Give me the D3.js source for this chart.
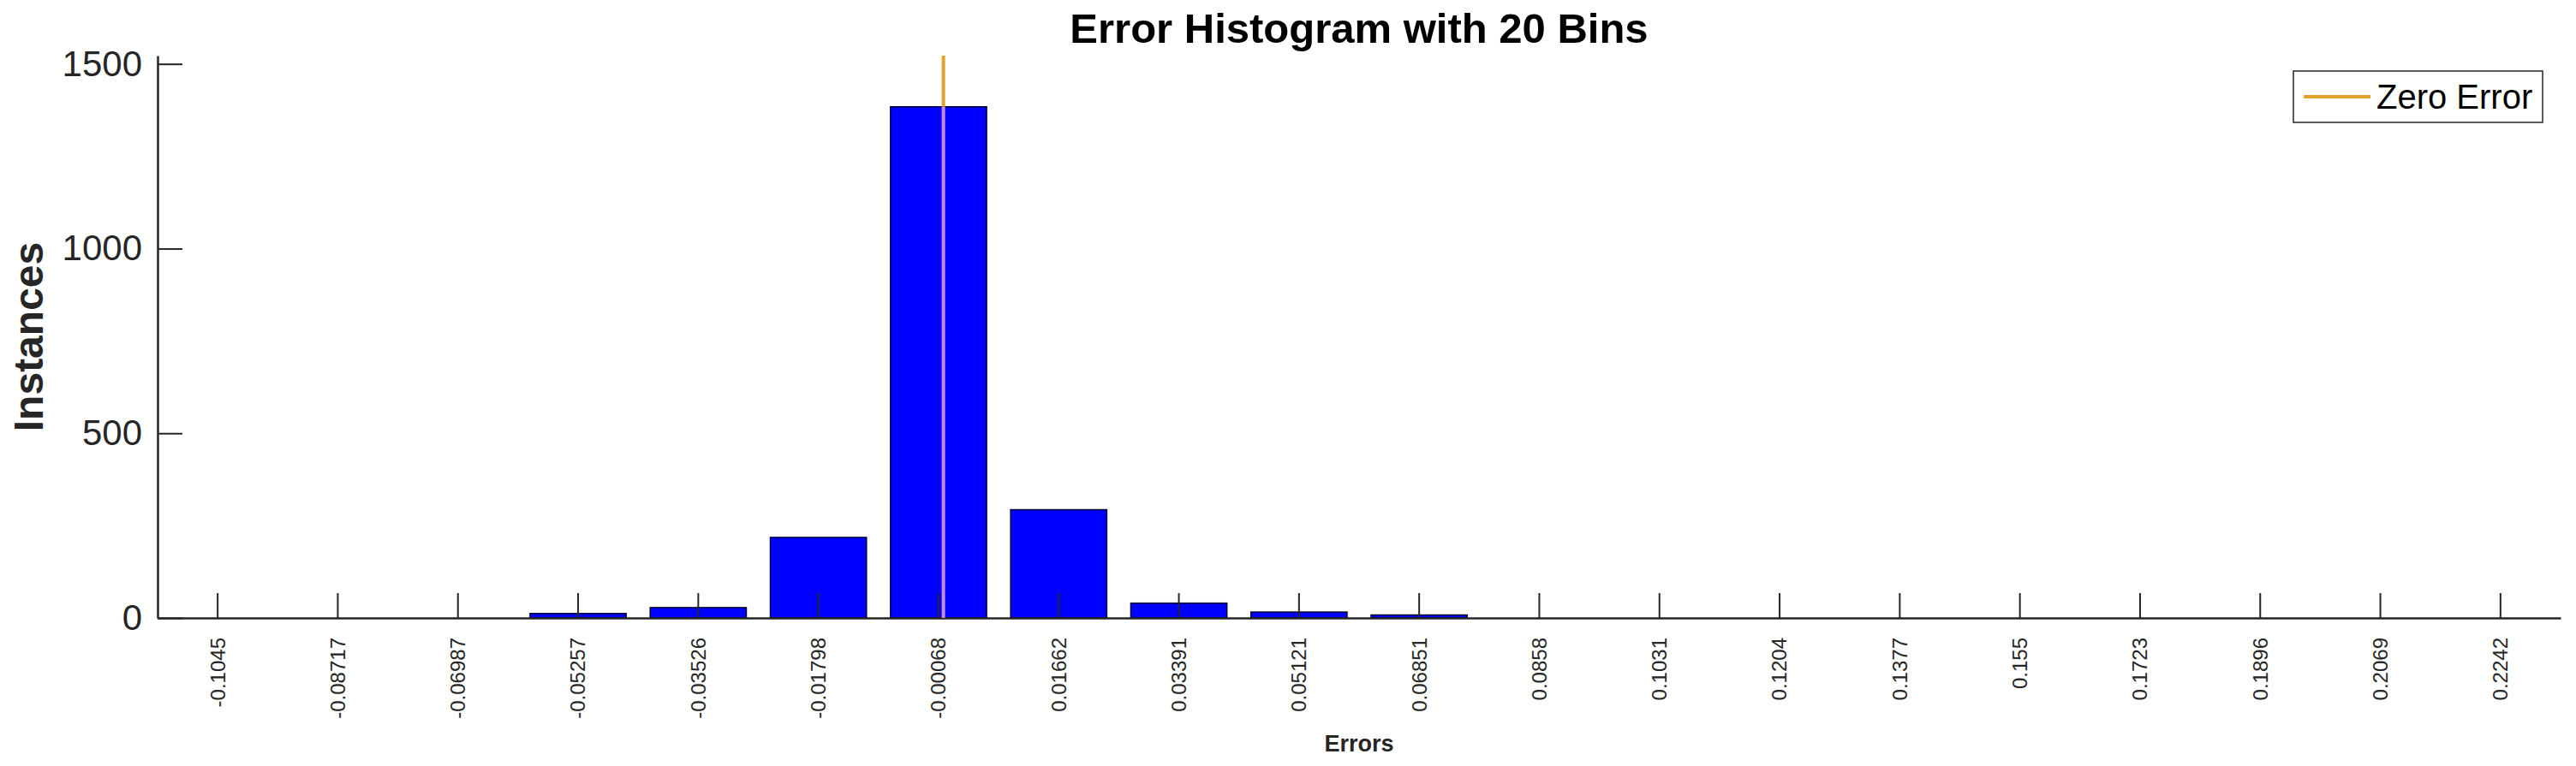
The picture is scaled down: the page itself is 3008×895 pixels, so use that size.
<!DOCTYPE html>
<html>
<head>
<meta charset="utf-8">
<script src="https://cdn.jsdelivr.net/npm/d3@7"></script>
<style>
  html, body { margin: 0; padding: 0; background: #fff; }
  svg { display: block; }
  text { font-family: "Liberation Sans", Arial, Helvetica, sans-serif; }
</style>
</head>
<body>
<svg id="chart" width="3008" height="895"></svg>
<script>
// ---- data ----
const binCenters = [-0.1045, -0.08717, -0.06987, -0.05257, -0.03526, -0.01798, -0.00068,
  0.01662, 0.03391, 0.05121, 0.06851, 0.0858, 0.1031, 0.1204, 0.1377, 0.155, 0.1723,
  0.1896, 0.2069, 0.2242];
const tickLabels = ["-0.1045", "-0.08717", "-0.06987", "-0.05257", "-0.03526", "-0.01798",
  "-0.00068", "0.01662", "0.03391", "0.05121", "0.06851", "0.0858", "0.1031", "0.1204",
  "0.1377", "0.155", "0.1723", "0.1896", "0.2069", "0.2242"];
const instances = [0, 0, 0, 12, 28, 218, 1384, 293, 40, 16, 8, 0, 0, 0, 0, 0, 0, 0, 0, 0];
const yTicks = [0, 500, 1000, 1500];
const zeroError = 0;
const titleText = "Error Histogram with 20 Bins";
const xLabel = "Errors";
const yLabel = "Instances";
const legendLabel = "Zero Error";

// ---- layout ----
const plotLeft = 184, plotRight = 2990, plotTop = 65, plotBottom = 722;
const axisColor = "#262626";
const barColor = "#0000ff";
const lineColor = "#e3a02c";

const svg = d3.select("#chart");

const x = d3.scaleBand().domain(d3.range(binCenters.length))
  .range([plotLeft, plotRight]).paddingInner(0.2).paddingOuter(0.1);
const yMax = d3.max(instances) * 1.1;
const y = d3.scaleLinear().domain([0, yMax]).range([plotBottom, plotTop]);
const xVal = d3.scaleLinear()
  .domain([binCenters[0], binCenters[binCenters.length - 1]])
  .range([x(0) + x.bandwidth() / 2, x(binCenters.length - 1) + x.bandwidth() / 2]);

// bars
svg.append("g").selectAll("rect").data(instances).join("rect")
  .attr("x", (d, i) => x(i))
  .attr("y", d => y(d))
  .attr("width", x.bandwidth())
  .attr("height", d => plotBottom - y(d))
  .attr("fill", barColor)
  .attr("stroke", "#000033")
  .attr("stroke-width", 1.5);

// x axis
const xAxis = svg.append("g").attr("transform", `translate(0,${plotBottom})`)
  .call(d3.axisBottom(x).tickSizeInner(-29).tickSizeOuter(0).tickPadding(0)
    .tickFormat(i => tickLabels[i]));
xAxis.select(".domain").attr("stroke", axisColor).attr("stroke-width", 2.5);
xAxis.selectAll(".tick line").attr("stroke", axisColor).attr("stroke-width", 2);
xAxis.selectAll(".tick text")
  .attr("transform", "translate(0,23) rotate(-90)")
  .attr("y", 0).attr("x", 0).attr("dy", "0.35em")
  .attr("text-anchor", "end")
  .attr("fill", axisColor)
  .style("font-size", "24px");

// y axis
const yAxis = svg.append("g").attr("transform", `translate(${plotLeft},0)`)
  .call(d3.axisLeft(y).tickValues(yTicks).tickFormat(d3.format("d"))
    .tickSizeInner(-29).tickSizeOuter(0).tickPadding(18));
yAxis.select(".domain").attr("stroke", axisColor).attr("stroke-width", 2.5);
yAxis.selectAll(".tick line").attr("stroke", axisColor).attr("stroke-width", 2);
yAxis.selectAll(".tick text").attr("fill", axisColor).style("font-size", "42px");

// zero error line
const zx = xVal(zeroError);
const zeroBin = d3.minIndex(binCenters, c => Math.abs(c - zeroError));
const barTop = y(instances[zeroBin]);
svg.append("line").attr("x1", zx).attr("x2", zx).attr("y1", y(yMax)).attr("y2", barTop)
  .attr("stroke", lineColor).attr("stroke-width", 4);
svg.append("line").attr("x1", zx).attr("x2", zx).attr("y1", barTop).attr("y2", plotBottom)
  .attr("stroke", "#c68ad4").attr("stroke-width", 4);

// title
svg.append("text").attr("x", (plotLeft + plotRight) / 2).attr("y", 50)
  .attr("text-anchor", "middle").attr("font-weight", "bold")
  .style("font-size", "49px").attr("fill", "#000").text(titleText);

// x label
svg.append("text").attr("x", (plotLeft + plotRight) / 2).attr("y", 878)
  .attr("text-anchor", "middle").attr("font-weight", "bold")
  .style("font-size", "27px").attr("fill", axisColor).text(xLabel);

// y label
svg.append("text").attr("transform", `translate(50,${(plotTop + plotBottom) / 2}) rotate(-90)`)
  .attr("text-anchor", "middle").attr("font-weight", "bold")
  .style("font-size", "48px").attr("fill", axisColor).text(yLabel);

// legend
const lg = svg.append("g");
lg.append("rect").attr("x", 2678).attr("y", 83).attr("width", 291).attr("height", 60)
  .attr("fill", "#fff").attr("stroke", axisColor).attr("stroke-width", 1.5);
lg.append("line").attr("x1", 2690).attr("x2", 2768).attr("y1", 113).attr("y2", 113)
  .attr("stroke", lineColor).attr("stroke-width", 4);
lg.append("text").attr("x", 2775).attr("y", 127).style("font-size", "40px")
  .attr("fill", "#000").text(legendLabel);
</script>
</body>
</html>
